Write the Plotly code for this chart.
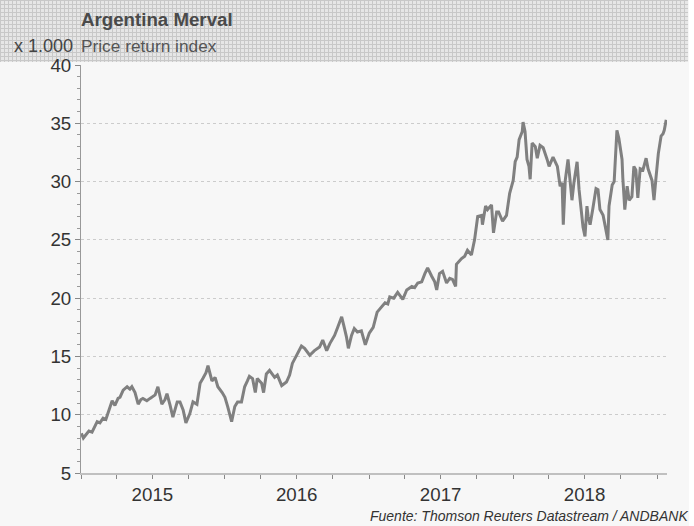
import plotly.graph_objects as go
import zlib, struct, base64

# ---- data ----
dates = [
    "2015-01-02", "2015-01-07", "2015-01-14", "2015-01-21", "2015-01-29", "2015-02-06", "2015-02-11",
    "2015-02-18", "2015-02-26", "2015-03-05", "2015-03-10", "2015-03-21", "2015-03-28", "2015-04-05",
    "2015-04-10", "2015-04-18", "2015-04-28", "2015-05-05", "2015-05-10", "2015-05-18", "2015-05-26",
    "2015-06-02", "2015-06-07", "2015-06-17", "2015-06-25", "2015-07-08", "2015-07-15", "2015-07-20",
    "2015-07-25", "2015-08-02", "2015-08-07", "2015-08-15", "2015-08-22", "2015-09-02", "2015-09-09",
    "2015-09-17", "2015-09-24", "2015-10-04", "2015-10-12", "2015-10-22", "2015-10-30", "2015-11-06",
    "2015-11-14", "2015-11-19", "2015-11-24", "2015-11-29", "2015-12-07", "2015-12-14", "2015-12-25",
    "2016-01-01", "2016-01-08", "2016-01-13", "2016-01-18", "2016-01-26", "2016-02-02", "2016-02-12",
    "2016-02-20", "2016-02-27", "2016-03-03", "2016-03-11", "2016-03-18", "2016-03-23", "2016-04-03",
    "2016-04-08", "2016-04-15", "2016-04-23", "2016-05-06", "2016-05-13", "2016-05-24", "2016-06-05",
    "2016-06-13", "2016-06-20", "2016-07-01", "2016-07-13", "2016-07-21", "2016-08-03", "2016-08-15",
    "2016-08-28", "2016-09-05", "2016-09-15", "2016-09-23", "2016-10-05", "2016-10-13", "2016-10-23",
    "2016-10-28", "2016-11-04", "2016-11-09", "2016-11-17", "2016-11-24", "2016-12-02", "2016-12-12",
    "2016-12-22", "2017-01-01", "2017-01-11", "2017-01-21", "2017-01-31", "2017-02-10", "2017-02-17",
    "2017-02-22", "2017-03-04", "2017-03-14", "2017-03-27", "2017-04-06", "2017-04-19", "2017-04-26",
    "2017-05-04", "2017-05-14", "2017-05-22", "2017-05-29", "2017-06-08", "2017-06-16", "2017-06-21",
    "2017-06-28", "2017-07-06", "2017-07-16", "2017-07-24", "2017-07-31", "2017-08-08", "2017-08-10",
    "2017-08-23", "2017-08-31", "2017-09-07", "2017-09-17", "2017-09-25", "2017-10-03", "2017-10-13",
    "2017-10-15", "2017-10-23", "2017-10-28", "2017-11-07", "2017-11-12", "2017-11-20", "2017-11-25",
    "2017-12-05", "2017-12-15", "2017-12-23", "2018-01-01", "2018-01-06", "2018-01-11", "2018-01-16",
    "2018-01-24", "2018-01-26", "2018-01-31", "2018-02-05", "2018-02-10", "2018-02-13", "2018-02-18",
    "2018-02-26", "2018-03-03", "2018-03-10", "2018-03-18", "2018-03-28", "2018-04-02", "2018-04-12",
    "2018-04-23", "2018-04-30", "2018-05-05", "2018-05-08", "2018-05-13", "2018-05-20", "2018-05-25",
    "2018-05-30", "2018-06-04", "2018-06-12", "2018-06-17", "2018-06-22", "2018-06-27", "2018-07-02",
    "2018-07-07", "2018-07-10", "2018-07-15", "2018-07-22", "2018-07-30", "2018-08-04", "2018-08-09",
    "2018-08-17", "2018-08-22", "2018-08-29", "2018-09-01", "2018-09-09", "2018-09-14", "2018-09-21",
    "2018-09-26", "2018-10-04", "2018-10-06", "2018-10-11", "2018-10-17", "2018-10-22", "2018-10-29",
    "2018-11-03", "2018-11-08", "2018-11-13", "2018-11-19", "2018-11-26", "2018-12-04", "2018-12-09",
    "2018-12-19", "2018-12-24", "2018-12-29", "2019-01-04", "2019-01-11", "2019-01-16", "2019-01-19",
    "2019-01-24",
]
values = [
    8.4, 8.0, 8.3, 8.6, 8.5, 9.0, 9.4,
    9.3, 9.7, 9.6, 10.1, 11.2, 10.8, 11.4,
    11.5, 12.1, 12.4, 12.2, 12.4, 11.9, 10.9,
    11.3, 11.4, 11.2, 11.4, 11.7, 12.4, 11.5,
    10.9, 11.3, 11.8, 10.8, 9.8, 11.1, 11.1,
    10.4, 9.3, 10.1, 11.1, 10.9, 12.7, 13.1,
    13.6, 14.2, 13.5, 12.9, 13.2, 12.4, 11.9,
    11.5, 10.7, 10.0, 9.4, 10.7, 11.1, 11.1,
    12.4, 12.9, 13.3, 13.1, 11.9, 13.1, 12.7,
    11.9, 13.5, 13.8, 13.2, 13.4, 12.5, 12.8,
    13.4, 14.4, 15.1, 15.9, 15.7, 15.1, 15.5,
    15.8, 16.4, 15.5, 16.1, 16.8, 17.5, 18.4,
    17.7, 16.7, 15.7, 16.8, 17.4, 17.1, 17.2,
    16.0, 17.0, 17.5, 18.8, 19.2, 19.6, 19.5,
    20.1, 20.0, 20.5, 19.9, 20.7, 21.0, 20.9,
    21.3, 21.4, 22.1, 22.6, 21.9, 21.4, 20.7,
    22.1, 22.3, 21.3, 21.7, 21.6, 21.0, 22.9,
    23.4, 23.6, 24.1, 23.7, 25.0, 27.0, 27.1,
    26.3, 27.9, 27.6, 28.0, 25.6, 27.4, 27.4,
    26.6, 27.1, 29.0, 30.1, 31.7, 32.1, 33.6,
    34.3, 35.1, 34.3, 31.9, 31.3, 30.2, 33.3,
    33.0, 32.0, 33.1, 32.9, 31.9, 31.3, 32.1,
    31.3, 29.6, 29.9, 26.3, 30.1, 31.9, 29.9,
    28.4, 29.9, 31.7, 29.3, 27.9, 26.1, 25.3,
    27.9, 27.0, 26.3, 27.7, 29.4, 29.3, 27.6,
    27.1, 26.3, 25.0, 27.9, 29.7, 30.0, 34.4,
    33.7, 31.9, 30.3, 27.6, 29.6, 28.4, 28.7,
    31.3, 31.0, 28.6, 31.1, 31.0, 32.0, 31.1,
    30.1, 28.4, 30.3, 32.4, 33.9, 34.1, 34.4,
    35.3,
]

tick_dates = [
    "2015-01-01", "2015-04-01", "2015-07-01", "2015-10-01",
    "2016-01-01", "2016-04-01", "2016-07-01", "2016-10-01",
    "2017-01-01", "2017-04-01", "2017-07-01", "2017-10-01",
    "2018-01-01", "2018-04-01", "2018-07-01", "2018-10-01",
    "2019-01-01",
]
tick_text = [
    "", "", "2015", "",
    "", "", "2016", "",
    "", "", "2017", "",
    "", "", "2018", "",
    "",
]
y_ticks = [5, 10, 15, 20, 25, 30, 35, 40]

title_text = "Argentina Merval"
subtitle_text = "Price return index"
unit_text = "x 1.000"
source_text = "Fuente: Thomson Reuters Datastream / ANDBANK"


# ---- decorative crosshatch header (generated PNG) ----
def pattern_png(w, h):
    rows = bytearray()
    for j in range(h):
        rows.append(0)
        for i in range(w):
            c = 0xc8 if (i % 4 == 0 or j % 4 == 0) else 0xe6
            rows += bytes((c, c, c))

    def chunk(t, d):
        return struct.pack(">I", len(d)) + t + d + struct.pack(">I", zlib.crc32(t + d) & 0xffffffff)

    png = (b"\x89PNG\r\n\x1a\n"
           + chunk(b"IHDR", struct.pack(">IIBBBBB", w, h, 8, 2, 0, 0, 0))
           + chunk(b"IDAT", zlib.compress(bytes(rows)))
           + chunk(b"IEND", b""))
    return "data:image/png;base64," + base64.b64encode(png).decode()


W, H = 694, 526
ML, MR, MT, MB = 81, 27, 65, 53
PW, PH = W - ML - MR, H - MT - MB


def px(x):
    return (x - ML) / PW


def py(y):
    return (H - MB - y) / PH


FONT = "Arial, Liberation Sans, sans-serif"

fig = go.Figure(
    go.Scatter(x=dates, y=values, mode="lines",
               line=dict(color="#808080", width=3), hoverinfo="skip")
)

fig.update_layout(
    width=W, height=H,
    margin=dict(l=ML, r=MR, t=MT, b=MB, pad=0),
    paper_bgcolor="#f7f7f7",
    plot_bgcolor="#f7f7f7",
    showlegend=False,
    font=dict(family=FONT, color="#333333"),
    images=[dict(
        source=pattern_png(688, 62), xref="paper", yref="paper",
        x=px(0), y=py(0), sizex=688 / PW, sizey=62 / PH,
        xanchor="left", yanchor="top", sizing="stretch", layer="below",
    )],
    shapes=[dict(type="rect", xref="paper", yref="paper",
                 x0=px(689), x1=px(700), y0=py(530), y1=py(-5),
                 fillcolor="white", line=dict(width=0), layer="below")],
    annotations=[
        dict(text="<b>" + title_text + "</b>", xref="paper", yref="paper",
             x=px(79), y=py(20), xanchor="left", yanchor="middle", showarrow=False,
             font=dict(size=18.7, color="#4a4a4a", family=FONT)),
        dict(text=subtitle_text, xref="paper", yref="paper",
             x=px(79), y=py(46), xanchor="left", yanchor="middle", showarrow=False,
             font=dict(size=17.3, color="#555555", family=FONT)),
        dict(text=unit_text, xref="paper", yref="paper",
             x=px(75), y=py(46), xanchor="right", yanchor="middle", showarrow=False,
             font=dict(size=18, color="#444444", family=FONT)),
        dict(text="<i>" + source_text + "</i>", xref="paper", yref="paper",
             x=px(690), y=py(516), xanchor="right", yanchor="middle", showarrow=False,
             font=dict(size=14, color="#333333", family=FONT)),
    ],
)

fig.update_xaxes(
    type="date", range=["2015-01-01", "2019-01-26"],
    tickmode="array", tickvals=tick_dates, ticktext=tick_text,
    ticks="outside", ticklen=4, tickwidth=1, tickcolor="#888888",
    showline=True, linecolor="#c0c0c0", linewidth=2,
    showgrid=False, zeroline=False,
    tickfont=dict(size=18.7, color="#333333", family=FONT),
)
fig.update_yaxes(
    range=[5, 40], tickmode="array", tickvals=y_ticks,
    ticks="outside", ticklen=5, tickwidth=1, tickcolor="#888888",
    showline=True, linecolor="#999999", linewidth=1,
    showgrid=True, gridcolor="#cccccc", gridwidth=1, griddash="dot",
    zeroline=False,
    minor=dict(dtick=1, ticks="outside", ticklen=3, tickcolor="#999999", showgrid=False),
    tickfont=dict(size=18.7, color="#333333", family=FONT),
)

fig.write_html(
    "out.html",
    config={"displayModeBar": False, "staticPlot": True},
    post_script="document.body.style.margin='0';document.body.style.overflow='hidden';",
)
